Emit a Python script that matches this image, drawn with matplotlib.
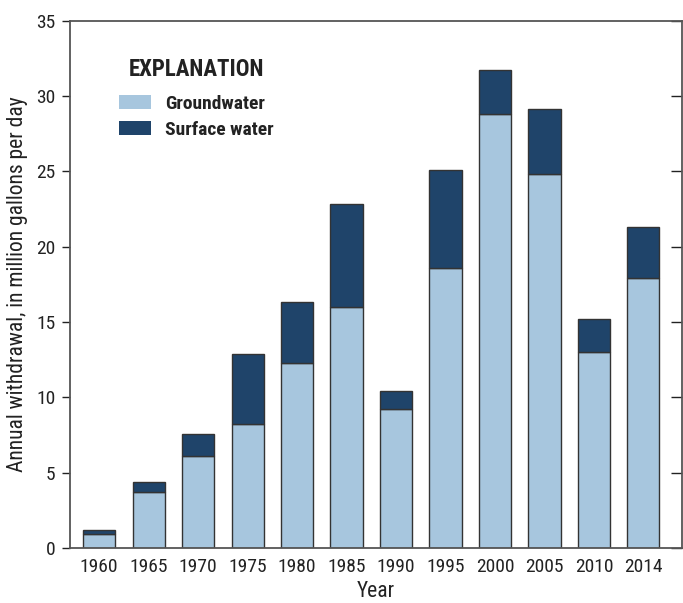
import matplotlib
matplotlib.use("Agg")
import matplotlib.pyplot as plt
from matplotlib.patches import Patch
import numpy as np

plt.rcParams['font.family'] = ['Roboto Condensed', 'DejaVu Sans']

# values, million gallons per day
years = ["1960", "1965", "1970", "1975", "1980", "1985", "1990",
         "1995", "2000", "2005", "2010", "2014"]
groundwater = [0.9, 3.7, 6.1, 8.2, 12.3, 16.0, 9.2, 18.6, 28.8, 24.8, 13.0, 17.9]
total = [1.2, 4.35, 7.55, 12.9, 16.35, 22.8, 10.4, 25.1, 31.7, 29.1, 15.2, 21.3]
surface = [t - g for t, g in zip(total, groundwater)]

gw_color = "#A7C6DE"
sw_color = "#1F446A"
edge = "#333333"

fig = plt.figure(figsize=(6.83, 6.03), dpi=100)
ax = fig.add_axes([69.5 / 683, 1 - 548 / 603, 612.5 / 683, 527.5 / 603])

x = np.arange(len(years))
width = 0.65
ax.bar(x, groundwater, width, color=gw_color, edgecolor=edge, linewidth=1.0)
ax.bar(x, surface, width, bottom=groundwater, color=sw_color, edgecolor=edge,
       linewidth=1.0)

ax.set_xlim(-0.6, 11.78)
ax.set_ylim(0, 35)
ax.set_yticks(range(0, 36, 5))
ax.set_xticks(x)
ax.set_xticklabels(years)

ax.tick_params(axis="x", length=0, labelsize=14, pad=7, colors="#222222")
ax.tick_params(axis="y", direction="out", length=6, width=1.0, labelsize=14,
               colors="#222222", right=True, pad=4)
# right-side ticks point inward
for t in ax.yaxis.get_major_ticks():
    t.tick2line.set_marker(matplotlib.lines.TICKLEFT)
    t.tick2line.set_markersize(8)

for s in ax.spines.values():
    s.set_color("#555555")
    s.set_linewidth(1.3)

ax.set_xlabel("Year", fontsize=15.5, color="#222222", labelpad=4)
ax.set_ylabel("Annual withdrawal, in million gallons per day", fontsize=15.5,
              color="#222222", labelpad=6)

handles = [Patch(facecolor=gw_color, edgecolor="none"),
           Patch(facecolor=sw_color, edgecolor="none")]
labels = ["Groundwater", "Surface water"]
leg = ax.legend(handles, labels, title="EXPLANATION", loc="upper left",
                bbox_to_anchor=(0.055, 0.958), frameon=False,
                prop={"size": 14, "weight": "bold"},
                title_fontproperties={"size": 16.5, "weight": "bold"},
                handlelength=1.65, handleheight=0.75, handletextpad=0.75,
                labelspacing=0.4, borderpad=0.3)
leg._legend_box.sep = 10
for t in leg.get_texts():
    t.set_color("#222222")
leg.get_title().set_color("#222222")

fig.savefig("out.png", dpi=100)
plt.close(fig)
